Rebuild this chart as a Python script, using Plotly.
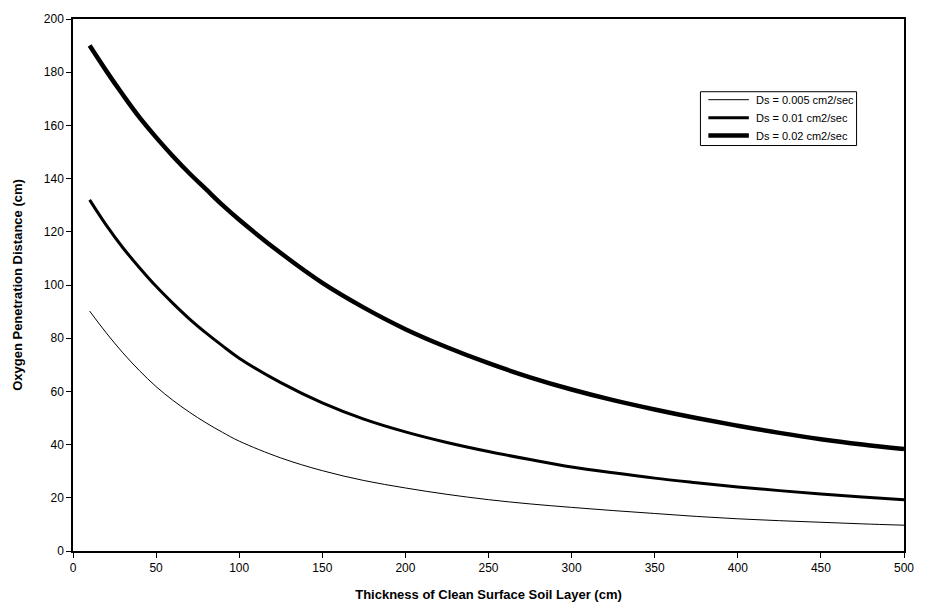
import plotly.graph_objects as go

# Thickness of clean surface soil layer (cm)
x_vals = [10, 20, 30, 40, 50, 60, 70, 80, 90, 100, 125, 150, 175, 200, 225, 250,
          275, 300, 325, 350, 375, 400, 425, 450, 475, 500]

# Oxygen penetration distance (cm) for each Ds
ds_005 = [90.2, 82, 74.5, 67.8, 61.8, 56.7, 52.2, 48.2, 44.6, 41.3, 35, 30.2, 26.5, 23.7, 21.3, 19.3,
          17.7, 16.4, 15.2, 14.1, 13.0, 12.1, 11.4, 10.8, 10.2, 9.7]
ds_010 = [132, 122.5, 114, 106.5, 99.5, 93.2, 87.3, 82, 77.1, 72.5, 63.3, 55.7, 49.6, 44.8, 40.8, 37.4,
          34.4, 31.6, 29.4, 27.4, 25.7, 24.1, 22.7, 21.4, 20.3, 19.3]
ds_020 = [190, 180.5, 171.5, 163, 155.5, 148.5, 142, 136, 130, 124.5, 112, 100.8, 91.5, 83.4, 76.6, 70.6,
          65.3, 60.7, 56.7, 53.2, 50, 47.1, 44.4, 42, 40, 38.3]

series_names = ["Ds = 0.005 cm2/sec", "Ds = 0.01 cm2/sec", "Ds = 0.02 cm2/sec"]
series_values = [ds_005, ds_010, ds_020]
series_widths = [1, 3, 4.5]

x_ticks = [0, 50, 100, 150, 200, 250, 300, 350, 400, 450, 500]
y_ticks = [0, 20, 40, 60, 80, 100, 120, 140, 160, 180, 200]

FONT = "Liberation Sans, Arial"

fig = go.Figure()
for name, vals, w in zip(series_names, series_values, series_widths):
    fig.add_trace(go.Scatter(
        x=x_vals, y=vals, mode="lines", name=name, showlegend=False,
        line=dict(color="black", width=w, shape="spline", smoothing=1.0),
    ))

axis_common = dict(
    showline=True, linecolor="black", linewidth=1.5, mirror=True,
    ticks="outside", ticklen=5, tickcolor="black", tickwidth=1,
    showgrid=False, zeroline=False,
    tickfont=dict(family=FONT, size=12, color="black"),
)

# Manual legend (box, line samples, labels) in paper coordinates
W, H = 926, 612
ml, mr, mt, mb = 73, 12, 18, 60
pw, ph = W - ml - mr, H - mt - mb

def px_x(p):
    return (p - ml) / pw

def px_y(p):
    return 1 - (p - mt) / ph

box_l, box_r, box_t, box_b = 708, 866, 91, 145
row_y = [99, 117, 135]
shapes = [dict(type="rect", xref="paper", yref="paper",
               x0=px_x(box_l), x1=px_x(box_r), y0=px_y(box_b), y1=px_y(box_t),
               line=dict(color="black", width=1), fillcolor="white", layer="above")]
annotations = []
for name, w, ry in zip(series_names, series_widths, row_y):
    shapes.append(dict(type="line", xref="paper", yref="paper",
                       x0=px_x(716), x1=px_x(757), y0=px_y(ry), y1=px_y(ry),
                       line=dict(color="black", width=w), layer="above"))
    annotations.append(dict(xref="paper", yref="paper", x=px_x(762), y=px_y(ry),
                            xanchor="left", yanchor="middle", showarrow=False,
                            text=name, font=dict(family=FONT, size=11, color="black")))

fig.update_layout(
    width=W, height=H,
    margin=dict(l=ml, r=mr, t=mt, b=mb),
    paper_bgcolor="white", plot_bgcolor="white",
    font=dict(family=FONT, color="black"),
    xaxis=dict(
        range=[0, 500], tickvals=x_ticks,
        title=dict(text="<b>Thickness of Clean Surface Soil Layer (cm)</b>",
                   font=dict(size=13, family=FONT), standoff=16),
        **axis_common,
    ),
    yaxis=dict(
        range=[0, 200], tickvals=y_ticks,
        title=dict(text="<b>Oxygen Penetration Distance (cm)</b>",
                   font=dict(size=13, family=FONT), standoff=18),
        **axis_common,
    ),
    shapes=shapes,
    annotations=annotations,
    showlegend=False,
)

fig.write_html("out.html")
